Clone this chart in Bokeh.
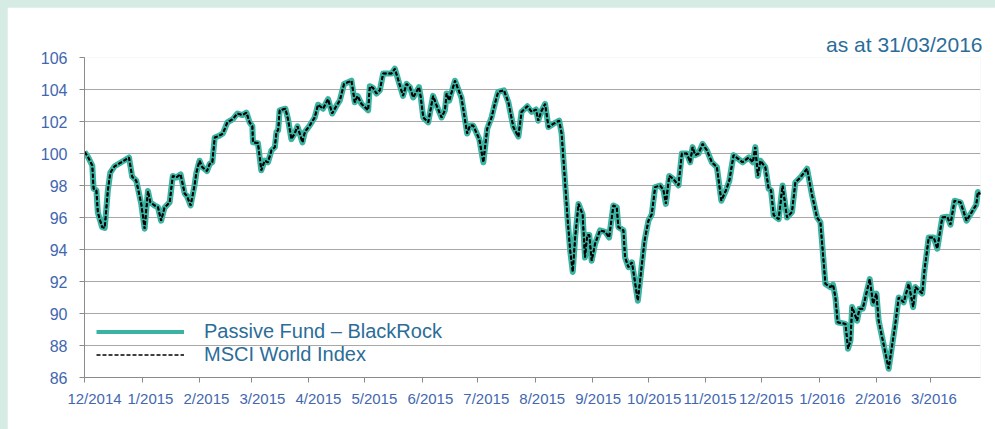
import pandas as pd
from bokeh.plotting import figure
from bokeh.models import (FixedTicker, Legend, LegendItem, LinearAxis,
                          ColumnDataSource, Range1d)
from bokeh.layouts import column
from bokeh.embed import file_html
from bokeh.resources import INLINE

# ---------------- data ----------------
START = pd.Timestamp("2014-12-01")
# days since 1 Dec 2014
days = [0, 1.8, 4.2, 4.9, 6.4, 7.2, 9.5, 10.9, 12.6, 13.9,
        16.2, 19.8, 24.0, 25.7, 27.9, 30.6, 32.4, 34.2, 35.5, 37.8,
        39.6, 41.3, 43.1, 45.9, 47.6, 49.5, 51.8, 54.0, 55.2, 57.2,
        59.3, 60.3, 62.0, 63.5, 66.0, 67.5, 68.9, 70.2, 72.5, 74.6,
        77.0, 80.0, 82.4, 85.1, 87.3, 89.0, 90.5, 90.8, 93.5, 95.3,
        97.1, 98.9, 100.8, 102.6, 103.5, 104.4, 105.2, 108.3, 109.7, 111.5,
        113.3, 114.8, 116.0, 117.5, 118.8, 121.4, 124.1, 125.9, 128.6, 131.3,
        133.5, 135.9, 137.6, 139.9, 143.9, 145.7, 147.2, 149.3, 152.9, 153.8,
        155.5, 157.4, 159.2, 161.0, 163.7, 165.5, 167.3, 169.5, 171.7, 173.6,
        175.4, 177.2, 180.3, 181.3, 182.6, 185.3, 187.9, 189.8, 192.5, 194.3,
        195.2, 196.6, 199.7, 203.2, 206.3, 207.8, 209.5, 212.8, 215.0, 217.1,
        219.4, 221.2, 223.0, 226.1, 228.5, 231.2, 233.9, 235.6, 238.7, 241.1,
        243.4, 244.6, 246.1, 248.3, 250.1, 252.7, 255.9, 257.2, 259.0, 260.5,
        261.8, 263.2, 264.5, 266.3, 268.5, 269.8, 271.0, 272.1, 273.4, 275.2,
        277.9, 280.7, 282.8, 285.1, 286.9, 287.8, 290.5, 291.4, 293.2, 295.1,
        298.3, 300.1, 301.9, 304.0, 305.8, 307.6, 310.3, 312.1, 313.4, 315.2,
        317.5, 320.2, 322.0, 324.7, 326.5, 327.8, 329.2, 331.0, 333.2, 335.5,
        338.2, 340.9, 343.3, 345.8, 347.6, 349.9, 352.6, 354.7, 358.0, 360.3,
        361.6, 363.0, 364.3, 367.0, 368.8, 370.1, 371.5, 374.2, 376.3, 378.7,
        381.4, 383.2, 385.9, 389.5, 392.2, 394.9, 396.7, 399.4, 402.1, 403.5,
        404.8, 406.0, 410.2, 411.6, 412.9, 413.8, 416.5, 417.7, 419.5, 423.3,
        425.1, 426.9, 428.1, 433.5, 437.2, 438.9, 441.6, 444.3, 446.7, 447.9,
        451.6, 452.8, 455.1, 457.8, 459.7, 462.4, 465.1, 466.8, 469.0, 472.2,
        475.5, 479.4, 480.7, 481.6, 483.0]

fund = [100.1, 99.8, 99.25, 97.8, 97.7, 96.3, 95.4, 95.35, 97.7, 98.8,
        99.2, 99.45, 99.75, 98.55, 98.3, 96.85, 95.3, 97.65, 96.95, 96.75,
        96.65, 95.8, 96.6, 96.95, 98.6, 98.5, 98.7, 97.5, 97.35, 96.75,
        98.0, 98.8, 99.55, 99.15, 98.9, 99.35, 99.45, 101.0, 101.1, 101.25,
        101.95, 102.15, 102.5, 102.4, 102.55, 101.95, 101.7, 100.7, 100.65, 98.95,
        99.55, 99.45, 100.2, 100.4, 101.35, 101.45, 102.7, 102.8, 102.15, 100.9,
        101.25, 101.7, 101.25, 100.7, 101.35, 101.75, 102.25, 103.05, 102.8, 103.4,
        102.5, 103.0, 103.3, 104.35, 104.55, 103.2, 103.6, 103.1, 102.7, 104.2,
        104.1, 103.75, 103.95, 105.0, 105.0, 105.0, 105.3, 104.45, 103.6, 104.35,
        104.15, 103.5, 104.15, 103.5, 102.25, 101.95, 103.6, 103.0, 102.25, 102.7,
        103.75, 103.3, 104.55, 103.5, 101.25, 101.75, 101.75, 100.9, 99.45, 101.55,
        102.25, 103.1, 103.85, 103.95, 103.2, 101.65, 101.05, 102.6, 102.95, 102.6,
        102.75, 102.05, 102.6, 103.1, 101.65, 101.85, 102.05, 101.25, 98.3, 95.8,
        93.95, 92.6, 94.75, 96.85, 96.2, 93.5, 94.9, 94.9, 93.3, 94.35,
        95.2, 95.1, 94.75, 96.75, 96.65, 95.4, 95.2, 93.5, 92.9, 93.2,
        90.8, 92.7, 94.55, 95.8, 96.2, 97.9, 98.0, 97.7, 96.85, 98.6,
        98.4, 98.0, 100.0, 100.0, 99.45, 100.4, 99.9, 100.0, 100.6, 100.2,
        99.45, 99.15, 97.05, 97.7, 98.3, 99.9, 99.65, 99.45, 99.75, 99.45,
        100.4, 98.6, 99.55, 99.15, 97.8, 97.7, 96.15, 95.9, 98.0, 96.0,
        96.35, 98.2, 98.5, 99.05, 97.4, 96.0, 95.7, 91.85, 91.65, 91.8,
        91.0, 89.45, 89.35, 87.8, 88.3, 90.4, 89.55, 90.3, 90.3, 92.15,
        90.6, 91.25, 89.55, 86.55, 89.45, 91.0, 90.7, 91.85, 90.4, 91.65,
        91.25, 92.7, 94.75, 94.75, 94.05, 96.0, 96.05, 95.55, 97.05, 96.95,
        95.8, 96.55, 96.8, 97.6, 97.45]

# the index tracks the fund so closely that the two lines coincide
msci = list(fund)

month_labels = ["12/2014", "1/2015", "2/2015", "3/2015", "4/2015", "5/2015",
                "6/2015", "7/2015", "8/2015", "9/2015", "10/2015", "11/2015",
                "12/2015", "1/2016", "2/2016", "3/2016"]
y_ticks = [86, 88, 90, 92, 94, 96, 98, 100, 102, 104, 106]

series_names = ["Passive Fund \u2013 BlackRock", "MSCI World Index"]
as_at_text = "as at 31/03/2016"

# ---------------- styling ----------------
FONT = "Liberation Sans"
TEAL = "#3bb3a2"
AXIS_BLUE = "#4267b0"
TEXT_BLUE = "#2b6d98"
GRID = "#a8a8a8"
AXIS_GRAY = "#8a8a8a"

month_starts = pd.date_range(START, periods=len(month_labels), freq="MS")
tick_days = [(d - START).days for d in month_starts]

src = ColumnDataSource(dict(day=days, fund=fund, msci=msci))

p = figure(width=988, height=422, output_backend="svg", toolbar_location=None,
           x_range=Range1d(0, 483), y_range=Range1d(86, 106),
           min_border_left=77, min_border_right=15,
           min_border_top=50, min_border_bottom=52,
           title=as_at_text, title_location="above")
p.margin = (7, 0, 0, 7)
p.outline_line_color = None
p.background_fill_color = "white"
p.border_fill_color = "white"

p.title.align = "right"
p.title.text_font = FONT
p.title.text_font_size = "21px"
p.title.text_font_style = "normal"
p.title.text_color = TEXT_BLUE
p.title.standoff = 4
p.title.offset = -2

p.xgrid.grid_line_color = None
p.ygrid.grid_line_color = GRID
p.ygrid.grid_line_width = 1

p.yaxis.ticker = FixedTicker(ticks=y_ticks)
p.yaxis.axis_line_color = AXIS_GRAY
p.yaxis.major_tick_line_color = AXIS_GRAY
p.yaxis.major_tick_out = 5
p.yaxis.major_tick_in = 0
p.yaxis.minor_tick_line_color = None
p.yaxis.major_label_standoff = 12
p.yaxis.major_label_text_font = FONT
p.yaxis.major_label_text_font_size = "16px"
p.yaxis.major_label_text_color = AXIS_BLUE

# main x axis: month-start ticks only (labels blank)
xa = p.xaxis[0]
xa.ticker = FixedTicker(ticks=tick_days)
xa.major_label_overrides = {d: "" for d in tick_days}
xa.axis_line_color = AXIS_GRAY
xa.major_tick_line_color = AXIS_GRAY
xa.major_tick_out = 5
xa.major_tick_in = 0
xa.minor_tick_line_color = None
xa.major_label_standoff = 0

# second x axis: month labels, evenly spaced as in the source chart
lab_x = [5.4 + 30.17 * i for i in range(len(month_labels))]
lab_axis = LinearAxis(ticker=FixedTicker(ticks=lab_x),
                      major_label_overrides={x: t for x, t in zip(lab_x, month_labels)},
                      axis_line_color=None, major_tick_line_color=None,
                      minor_tick_line_color=None, major_label_standoff=1,
                      major_label_text_font=FONT, major_label_text_font_size="15px",
                      major_label_text_color=AXIS_BLUE)
p.add_layout(lab_axis, "below")

l_fund = p.line(x="day", y="fund", source=src, line_color=TEAL, line_width=4)
r_fund = p.line(x="day", y="fund", source=src, line_color=TEAL, line_width=6,
                line_join="round")
l_msci = p.line(x="day", y="msci", source=src, line_color="black", line_width=1.5,
                line_dash="4 2")
r_msci = p.line(x="day", y="msci", source=src, line_color="black", line_width=2,
                line_dash="4 2")

legend = Legend(items=[LegendItem(label=series_names[0], renderers=[l_fund]),
                       LegendItem(label=series_names[1], renderers=[l_msci])],
                location=(12, 11), glyph_width=88, glyph_height=21, label_height=21,
                label_standoff=20, label_text_font=FONT, label_text_font_size="20px",
                label_text_color=TEXT_BLUE, padding=0, margin=0, spacing=-4,
                border_line_color=None, background_fill_alpha=0)
p.add_layout(legend)

layout = column(p, styles={"background-color": "#d7ebe5"})

open("out.html", "w").write(file_html(layout, INLINE))
